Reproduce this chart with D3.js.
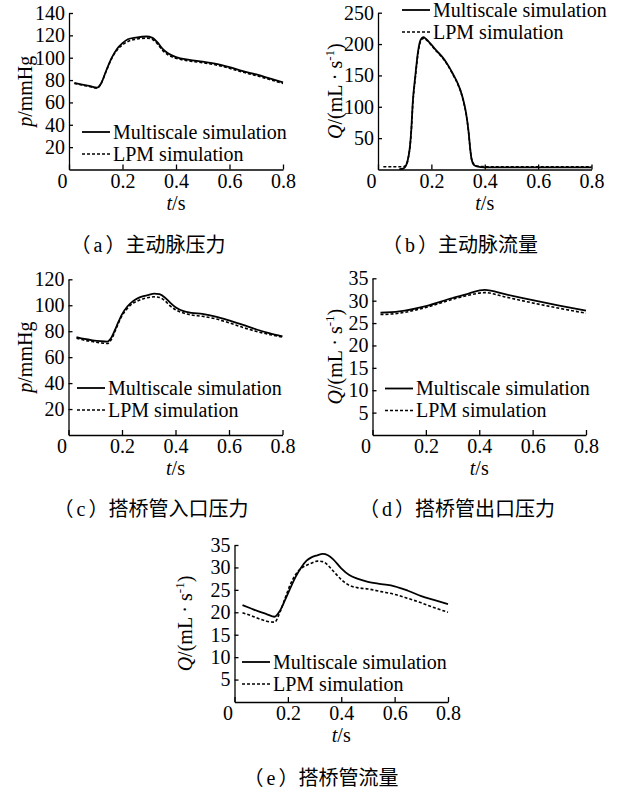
<!DOCTYPE html>
<html>
<head>
<meta charset="utf-8">
<script src="https://cdn.jsdelivr.net/npm/d3@7"></script>
<style>
body { margin: 0; background: #fff; }
svg text { font-family: "Liberation Serif", "Times New Roman", serif; fill: #000; text-spacing-trim: space-all; }
.cjk { font-family: "Noto Sans CJK SC", sans-serif; }
</style>
</head>
<body>
<svg id="chart" width="620" height="792"></svg>
<script>

// (a) aortic pressure
var tA = [0.02, 0.05, 0.08, 0.105, 0.12, 0.14, 0.16, 0.18, 0.20, 0.22, 0.25, 0.29, 0.31, 0.33, 0.35, 0.37, 0.40, 0.45, 0.50, 0.55, 0.60, 0.65, 0.70, 0.75, 0.80];
var multiA = [77.5, 76, 74.5, 73.3, 77, 89, 100, 108, 113, 116.5, 118, 119, 118, 114, 108, 104, 100.5, 98, 96.5, 94.5, 91.5, 88, 85, 81.5, 78];
var lpmA = [77, 75.5, 74, 72.8, 77, 88.5, 99.5, 107, 111.5, 114.5, 116.5, 117.5, 116.5, 112.5, 106.5, 102.5, 99.5, 97, 95.5, 93.5, 90.5, 87, 84, 80.5, 77];
var yTicksA = [20, 40, 60, 80, 100, 120, 140];

// (b) aortic flow
var tB = [0.02, 0.05, 0.08, 0.095, 0.105, 0.115, 0.12, 0.125, 0.13, 0.14, 0.15, 0.16, 0.17, 0.18, 0.20, 0.22, 0.24, 0.26, 0.28, 0.30, 0.31, 0.32, 0.33, 0.34, 0.345, 0.35, 0.36, 0.37, 0.40, 0.50, 0.60, 0.70, 0.80];
var multiB = [null, null, 0.5, 1.5, 6, 22, 38, 65, 105, 150, 188, 207, 211, 208, 199, 189, 180, 168, 153, 136, 125, 110, 90, 58, 35, 18, 7, 5, 3.5, 3.5, 3.5, 3.5, 3.5];
var lpmB = [4.5, 4.5, 4.5, 4.5, 7, 22, 37, 63, 102, 147, 185, 205, 209, 207, 198, 188, 179, 167, 152, 135, 124, 109, 89, 57, 35, 18, 8, 5.5, 4.5, 4.5, 4.5, 4.5, 4.5];
var yTicksB = [50, 100, 150, 200, 250];

// (c) graft inlet pressure
var tC = [0.03, 0.06, 0.09, 0.12, 0.145, 0.16, 0.18, 0.20, 0.22, 0.24, 0.26, 0.28, 0.30, 0.32, 0.34, 0.36, 0.38, 0.40, 0.43, 0.46, 0.50, 0.55, 0.60, 0.65, 0.70, 0.75, 0.80];
var multiC = [75.5, 74, 73, 72.3, 72, 75, 84, 93, 99, 103, 105.5, 107, 108, 109, 108.5, 106, 102, 98.5, 95.5, 94.2, 93.3, 91.3, 88.3, 85, 81.5, 78.5, 76];
var lpmC = [74.5, 73, 72, 71, 70.5, 73.5, 83, 92, 97.5, 101.5, 103.5, 105, 106, 106.5, 106, 103.5, 99.5, 96.5, 94, 92.5, 91.5, 89.5, 86.5, 83, 80, 77.5, 75.5];
var yTicksC = [20, 40, 60, 80, 100, 120];

// (d) graft outlet
var tD = [0.03, 0.1, 0.2, 0.3, 0.36, 0.42, 0.5, 0.6, 0.7, 0.8];
var multiD = [27.3, 27.6, 28.8, 30.6, 31.6, 32.4, 31.4, 30.1, 28.9, 27.8];
var lpmD = [26.9, 27.2, 28.5, 30.3, 31.2, 31.8, 30.8, 29.5, 28.3, 27.2];
var yTicksD = [5, 10, 15, 20, 25, 30, 35];

// (e) graft flow
var tE = [0.03, 0.06, 0.09, 0.12, 0.15, 0.17, 0.19, 0.21, 0.23, 0.25, 0.27, 0.29, 0.31, 0.33, 0.35, 0.37, 0.40, 0.43, 0.46, 0.50, 0.55, 0.60, 0.65, 0.70, 0.75, 0.80];
var multiE = [21.6, 20.9, 20.2, 19.6, 19.0, 20.3, 22.8, 25.5, 28.0, 30.0, 31.5, 32.3, 32.7, 33.0, 32.7, 31.8, 29.8, 28.3, 27.5, 26.8, 26.3, 25.8, 24.8, 23.6, 22.7, 21.8];
var lpmE = [19.9, 19.3, 18.6, 18.0, 17.8, 20.0, 23.2, 26.3, 28.5, 29.8, 30.5, 31.0, 31.4, 31.3, 30.5, 29.2, 27.3, 26.0, 25.5, 25.2, 24.6, 24.0, 23.1, 22.1, 21.0, 20.0];
var yTicksE = [5, 10, 15, 20, 25, 30, 35];

var xTicks = [0, 0.2, 0.4, 0.6, 0.8];
var seriesNames = ["Multiscale simulation", "LPM simulation"];
var captionLetters = ["a", "b", "c", "d", "e"];
var captions = ["主动脉压力", "主动脉流量", "搭桥管入口压力", "搭桥管出口压力", "搭桥管流量"];

var svg = d3.select("#chart");
var serif = "'Liberation Serif', 'Times New Roman', serif";

// layout of each panel (pixels)
var panels = [
  {t: tA, multi: multiA, lpm: lpmA, yTicks: yTicksA, yMax: 140, label: "p",
   x0: 69, x1: 283, yTop: 13, yBot: 169.5, labX: 25, legX: 82, legY: 132, capX: 148, capY: 252},
  {t: tB, multi: multiB, lpm: lpmB, yTicks: yTicksB, yMax: 250, label: "Q",
   x0: 378, x1: 591.5, yTop: 12.7, yBot: 169.5, labX: 335, legX: 402, legY: 10, capX: 460, capY: 252},
  {t: tC, multi: multiC, lpm: lpmC, yTicks: yTicksC, yMax: 120, label: "p",
   x0: 68.5, x1: 282.5, yTop: 279.3, yBot: 435, labX: 25, legX: 77, legY: 388, capX: 151, capY: 516},
  {t: tD, multi: multiD, lpm: lpmD, yTicks: yTicksD, yMax: 35, label: "Q",
   x0: 372.5, x1: 586, yTop: 278.3, yBot: 435, labX: 335, legX: 385, legY: 388.5, capX: 457, capY: 516},
  {t: tE, multi: multiE, lpm: lpmE, yTicks: yTicksE, yMax: 35, label: "Q",
   x0: 234.5, x1: 448, yTop: 545, yBot: 702, labX: 185, legX: 242, legY: 662, capX: 321, capY: 785}
];

panels.forEach(function(p, k) {
  var x = d3.scaleLinear().domain([0, 0.8]).range([p.x0, p.x1]);
  var y = d3.scaleLinear().domain([0, p.yMax]).range([p.yBot, p.yTop]);
  var g = svg.append("g");

  var xa = g.append("g")
      .attr("transform", "translate(0," + p.yBot + ")")
      .call(d3.axisBottom(x).tickValues(xTicks).tickSizeInner(-5).tickSizeOuter(0).tickPadding(4)
        .tickFormat(function(d) { return d === 0 ? "0" : d3.format(".1f")(d); }));
  xa.attr("font-family", serif).attr("font-size", 20);
  xa.selectAll("text").attr("x", function(d) { return d === 0 ? -7 : 0; });

  var ya = g.append("g")
      .attr("transform", "translate(" + p.x0 + ",0)")
      .call(d3.axisLeft(y).tickValues(p.yTicks).tickSizeInner(-4).tickSizeOuter(0).tickPadding(4));
  ya.attr("font-family", serif).attr("font-size", 20);

  g.selectAll(".domain, .tick line").attr("stroke", "#000").attr("stroke-width", 1.3);

  var line = function(vals) {
    return d3.line()
      .defined(function(d, i) { return vals[i] != null; })
      .x(function(d) { return x(d); })
      .y(function(d, i) { return y(vals[i]); })
      .curve(d3.curveMonotoneX)(p.t);
  };

  g.append("path").attr("d", line(p.lpm))
    .attr("fill", "none").attr("stroke", "#000").attr("stroke-width", 1.6).attr("stroke-dasharray", "3,2");
  g.append("path").attr("d", line(p.multi))
    .attr("fill", "none").attr("stroke", "#000").attr("stroke-width", 1.8);

  // legend
  seriesNames.forEach(function(name, i) {
    var ly = p.legY + i * 22;
    g.append("line").attr("x1", p.legX).attr("x2", p.legX + 28).attr("y1", ly).attr("y2", ly)
      .attr("stroke", "#000").attr("stroke-width", i ? 1.6 : 1.8)
      .attr("stroke-dasharray", i ? "3,2" : null);
    g.append("text").attr("x", p.legX + 31).attr("y", ly + 6.5).attr("font-size", 20).text(name);
  });

  // axis titles
  var yl = g.append("text")
      .attr("transform", "translate(" + p.labX + "," + ((p.yTop + p.yBot) / 2) + ") rotate(-90)")
      .attr("text-anchor", "middle").attr("dy", "0.35em").attr("font-size", 20);
  yl.append("tspan").attr("font-style", "italic").text(p.label);
  if (p.label === "p") {
    yl.append("tspan").text("/mmHg");
  } else {
    yl.append("tspan").text("/(mL · s");
    yl.append("tspan").attr("font-size", 13).attr("dy", -8).text("-1");
    yl.append("tspan").attr("dy", 8).text(")");
  }

  var xl = g.append("text")
      .attr("x", (p.x0 + p.x1) / 2).attr("y", p.yBot + 40)
      .attr("text-anchor", "middle").attr("font-size", 20);
  xl.append("tspan").attr("font-style", "italic").text("t");
  xl.append("tspan").text("/s");

  var cap = g.append("text")
    .attr("x", p.capX).attr("y", p.capY)
    .attr("text-anchor", "middle").attr("font-size", 20);
  cap.append("tspan").attr("class", "cjk").text("（");
  cap.append("tspan").attr("dx", 3).text(captionLetters[k]);
  cap.append("tspan").attr("class", "cjk").attr("dx", 3).text("）" + captions[k]);
});

</script>
</body>
</html>
